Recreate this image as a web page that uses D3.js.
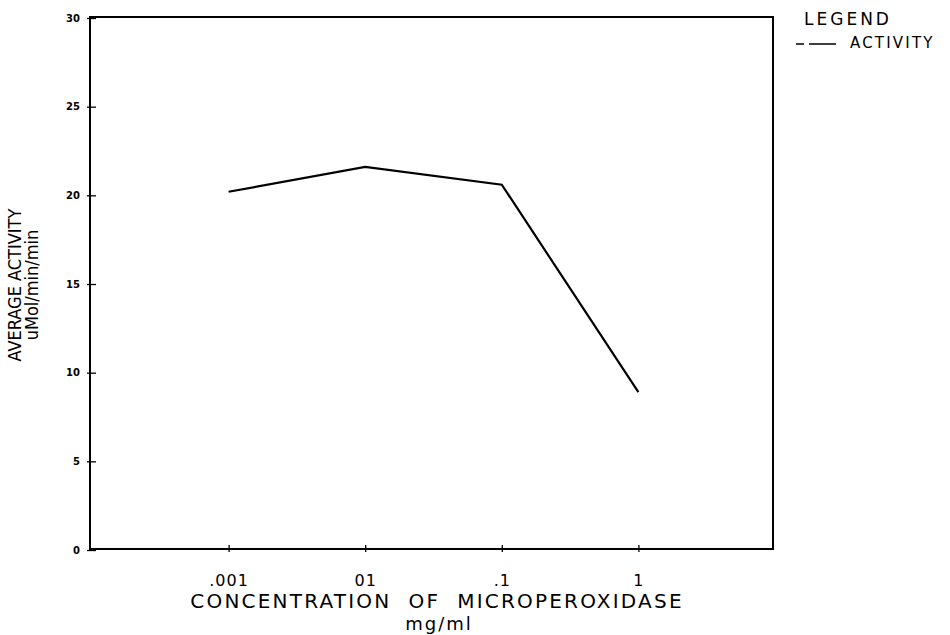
<!DOCTYPE html>
<html>
<head>
<meta charset="utf-8">
<script src="https://cdn.jsdelivr.net/npm/d3@7/dist/d3.min.js"></script>
<style>
  html, body { margin: 0; padding: 0; background: #fff; }
  svg { display: block; }
</style>
</head>
<body>
<svg id="chart" width="950" height="635"></svg>
<script>
// ---- data ----
const concentrations = [0.001, 0.01, 0.1, 1];
const activity = [20.2, 21.6, 20.6, 8.9];
const xTickValues = [0.001, 0.01, 0.1, 1];
const xTickLabels = [".001", "01", ".1", "1"];
const yTickValues = [0, 5, 10, 15, 20, 25, 30];
const seriesName = "ACTIVITY";

const svg = d3.select("#chart");
const plotLeft = 90, plotRight = 773, plotTop = 17, plotBottom = 549;

const x = d3.scaleLog().domain([0.0001, 10]).range([plotLeft + 2, plotRight + 2]);
const y = d3.scaleLinear().domain([0, 30]).range([plotBottom + 1, plotTop + 1]);

// frame
svg.append("rect")
  .attr("x", plotLeft).attr("y", plotTop)
  .attr("width", plotRight - plotLeft).attr("height", plotBottom - plotTop)
  .attr("fill", "none").attr("stroke", "#000").attr("stroke-width", 2);

// y axis
const yAxis = d3.axisLeft(y).tickValues(yTickValues).tickSize(5).tickPadding(5)
  .tickFormat(d3.format("d"));
const gy = svg.append("g").attr("transform", `translate(${plotLeft},0)`).call(yAxis);
gy.select(".domain").remove();
gy.selectAll(".tick line").attr("x2", 6).attr("x1", -3).attr("stroke", "#000").attr("stroke-width", 1.3);
gy.selectAll(".tick text")
  .attr("x", -10)
  .style("font-family", "'DejaVu Sans', sans-serif")
  .style("font-size", "10px").style("font-weight", "bold").attr("fill", "#000");

// x axis
const xAxis = d3.axisBottom(x).tickValues(xTickValues).tickSize(5).tickPadding(10)
  .tickFormat((d, i) => xTickLabels[i]);
const gx = svg.append("g").attr("transform", `translate(0,${plotBottom})`).call(xAxis);
gx.select(".domain").remove();
gx.selectAll(".tick line").attr("y1", -4).attr("y2", 3).attr("stroke", "#000").attr("stroke-width", 1.3);
gx.selectAll(".tick text")
  .attr("y", 37)
  .attr("dy", null)
  .style("font-family", "'DejaVu Sans', sans-serif")
  .style("font-size", "16px").style("letter-spacing", "1px").attr("fill", "#000");

// line
const line = d3.line().x((d, i) => x(concentrations[i])).y(d => y(d));
svg.append("path")
  .datum(activity)
  .attr("d", line)
  .attr("fill", "none").attr("stroke", "#000").attr("stroke-width", 2.2)
  .attr("stroke-linejoin", "miter");

// x title
svg.append("text")
  .attr("x", 437).attr("y", 608)
  .attr("text-anchor", "middle")
  .style("font-family", "'DejaVu Sans', sans-serif")
  .style("font-size", "20px").style("letter-spacing", "2.2px")
  .style("white-space", "pre")
  .attr("fill", "#000")
  .text("CONCENTRATION  OF  MICROPEROXIDASE");
svg.append("text")
  .attr("x", 439).attr("y", 630)
  .attr("text-anchor", "middle")
  .style("font-family", "'DejaVu Sans', sans-serif")
  .style("font-size", "18px").style("letter-spacing", "2px")
  .attr("fill", "#000")
  .text("mg/ml");

// y title
const yt = svg.append("text")
  .attr("transform", "translate(21,285) rotate(-90)")
  .attr("text-anchor", "middle")
  .style("font-family", "'DejaVu Sans Condensed', 'Liberation Sans Narrow', sans-serif")
  .style("font-size", "18px")
  .attr("fill", "#000");
yt.append("tspan").attr("x", 0).attr("dy", 0).text("AVERAGE ACTIVITY");
yt.append("tspan").attr("x", 0).attr("dy", 17).text("uMol/min/min");

// legend
svg.append("text")
  .attr("x", 804).attr("y", 25)
  .style("font-family", "'DejaVu Sans', sans-serif")
  .style("font-size", "17px").style("letter-spacing", "3px")
  .attr("fill", "#000")
  .text("LEGEND");
svg.append("line")
  .attr("x1", 796).attr("x2", 836).attr("y1", 44).attr("y2", 44)
  .attr("stroke", "#000").attr("stroke-width", 1.3)
  .attr("stroke-dasharray", "8,5,27");
svg.append("text")
  .attr("x", 850).attr("y", 48)
  .style("font-family", "'DejaVu Sans', sans-serif")
  .style("font-size", "15px").style("letter-spacing", "2.2px")
  .attr("fill", "#000")
  .text(seriesName);
</script>
</body>
</html>
